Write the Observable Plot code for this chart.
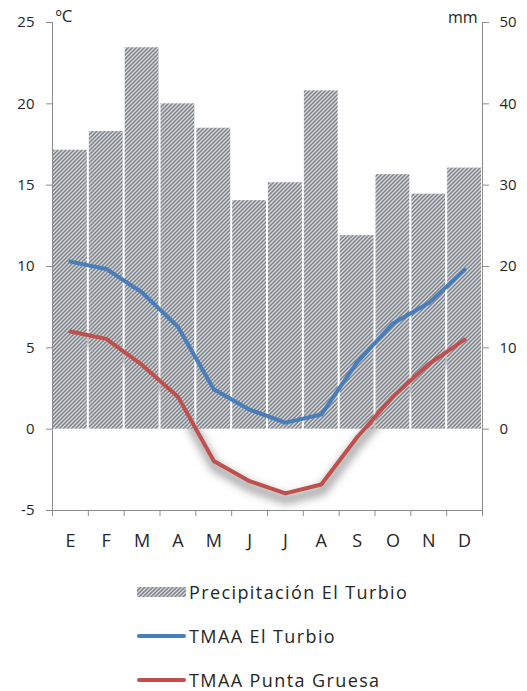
<!DOCTYPE html>
<html>
<head>
<meta charset="utf-8">
<script src="https://cdn.jsdelivr.net/npm/d3@7"></script>
<script src="https://cdn.jsdelivr.net/npm/@observablehq/plot@0.6"></script>
<style>
  html, body { margin: 0; padding: 0; background: #fff; overflow: hidden; }
  body { width: 527px; height: 691px; font-family: "Open Sans", sans-serif; color: #262626; }
  #chart svg { display: block; }
  #legend { margin-left: 137px; margin-top: 10px; }
  .row { height: 44px; display: flex; align-items: center; }
  .row span { margin-left: 3px; font-size: 18px; letter-spacing: 1.4px; color: #262626; }
  .line { width: 49px; height: 4px; border-radius: 2px; }
</style>
</head>
<body>
<div id="chart"></div>
<div id="legend">
  <div class="row">
    <svg width="49" height="10">
      <defs>
        <pattern id="hatchL" patternUnits="userSpaceOnUse" width="4" height="4">
          <rect width="4" height="4" fill="#d3dbe6"></rect>
          <path d="M0,4L4,0M-1,1L1,-1M3,5L5,3" stroke="#808080" stroke-width="1.5"></path>
        </pattern>
      </defs>
      <rect width="49" height="10" fill="url(#hatchL)"></rect>
    </svg>
    <span>Precipitación El Turbio</span>
  </div>
  <div class="row"><div class="line" style="background:#4a7ebb"></div><span>TMAA El Turbio</span></div>
  <div class="row"><div class="line" style="background:#c0504d"></div><span>TMAA Punta Gruesa</span></div>
</div>
<script>
const months = ["E","F","M","A","M","J","J","A","S","O","N","D"];
const precipElTurbio = [34.3, 36.6, 46.9, 40.0, 37.0, 28.1, 30.3, 41.6, 23.8, 31.3, 28.9, 32.1];
const tmaaElTurbio = [10.3, 9.85, 8.4, 6.3, 2.45, 1.2, 0.4, 0.9, 4.1, 6.5, 7.75, 9.8];
const tmaaPuntaGruesa = [6.0, 5.55, 3.95, 2.0, -1.95, -3.2, -3.95, -3.4, -0.5, 2.0, 4.0, 5.5];
const leftTicks = [-5, 0, 5, 10, 15, 20, 25];
const rightTicks = [0, 10, 20, 30, 40, 50];

const rows = months.map((m, i) => ({i, m, p: precipElTurbio[i], a: tmaaElTurbio[i], b: tmaaPuntaGruesa[i]}));
const mmToC = v => v / 2;
const axisColor = "#8c8c8c";
const textColor = "#262626";

const chart = Plot.plot({
  width: 527,
  height: 560,
  marginTop: 22,
  marginBottom: 50,
  marginLeft: 52,
  marginRight: 45,
  style: {fontFamily: "Open Sans", color: textColor, background: "#fff"},
  x: {type: "linear", domain: [0, months.length], axis: null},
  y: {domain: [leftTicks[0], leftTicks[leftTicks.length - 1]], axis: null},
  marks: [
    Plot.lineY(rows, {x: d => d.i + 0.5, y: "b", stroke: "#6a6a6a", strokeWidth: 9, strokeOpacity: 0.6, dy: 6, dx: 1}),
    Plot.rectY(rows, {x1: "i", x2: d => d.i + 1, y1: 0, y2: d => mmToC(d.p), insetLeft: 1, insetRight: 1, fill: "url(#hatch)"}),
    Plot.lineY(rows, {x: d => d.i + 0.5, y: "a", stroke: "#4a7ebb", strokeWidth: 4, strokeLinejoin: "round", strokeLinecap: "round"}),
    Plot.lineY(rows, {x: d => d.i + 0.5, y: "b", stroke: "#c0504d", strokeWidth: 4, strokeLinejoin: "round", strokeLinecap: "round"}),
    Plot.ruleX([0, months.length], {y1: leftTicks[0], y2: leftTicks[leftTicks.length - 1], stroke: axisColor}),
    Plot.ruleY([leftTicks[0]], {x1: 0, x2: months.length, stroke: axisColor}),
    Plot.axisY({anchor: "left", label: null, ticks: leftTicks, tickSize: 6, tickPadding: 12, stroke: axisColor, fill: textColor, fontSize: 15, tickFormat: d => d}),
    Plot.axisY({anchor: "right", label: null, ticks: rightTicks.map(mmToC), tickSize: 6, tickPadding: 11, stroke: axisColor, fill: textColor, fontSize: 15, tickFormat: d => d * 2}),
    Plot.axisX({anchor: "bottom", label: null, ticks: d3.range(months.length + 1), tickSize: 6, stroke: axisColor, tickFormat: () => ""}),
    Plot.axisX({anchor: "bottom", label: null, ticks: months.map((m, i) => i + 0.5), tickSize: 0, tickPadding: 24, fill: textColor, fontSize: 18, tickFormat: d => months[Math.floor(d)]}),
    Plot.text(["ºC"], {x: 0, y: leftTicks[leftTicks.length - 1], dx: 3, dy: -6, textAnchor: "start", fontSize: 17, fill: textColor}),
    Plot.text(["mm"], {x: months.length, y: leftTicks[leftTicks.length - 1], dx: -5, dy: -5, textAnchor: "end", fontSize: 16, fill: textColor})
  ]
});

const svg = d3.select(chart);
const defs = svg.insert("defs", ":first-child");
const pat = defs.append("pattern").attr("id", "hatch").attr("patternUnits", "userSpaceOnUse").attr("width", 4).attr("height", 4);
pat.append("rect").attr("width", 4).attr("height", 4).attr("fill", "#d3dbe6");
pat.append("path").attr("d", "M0,4L4,0M-1,1L1,-1M3,5L5,3").attr("stroke", "#808080").attr("stroke-width", 1.5);
const f = defs.append("filter").attr("id", "blur").attr("x", "-20%").attr("y", "-40%").attr("width", "140%").attr("height", "200%");
f.append("feGaussianBlur").attr("stdDeviation", 4.5);
svg.select('g[aria-label="line"]').attr("filter", "url(#blur)");

document.getElementById("chart").appendChild(chart);
</script>
</body>
</html>
